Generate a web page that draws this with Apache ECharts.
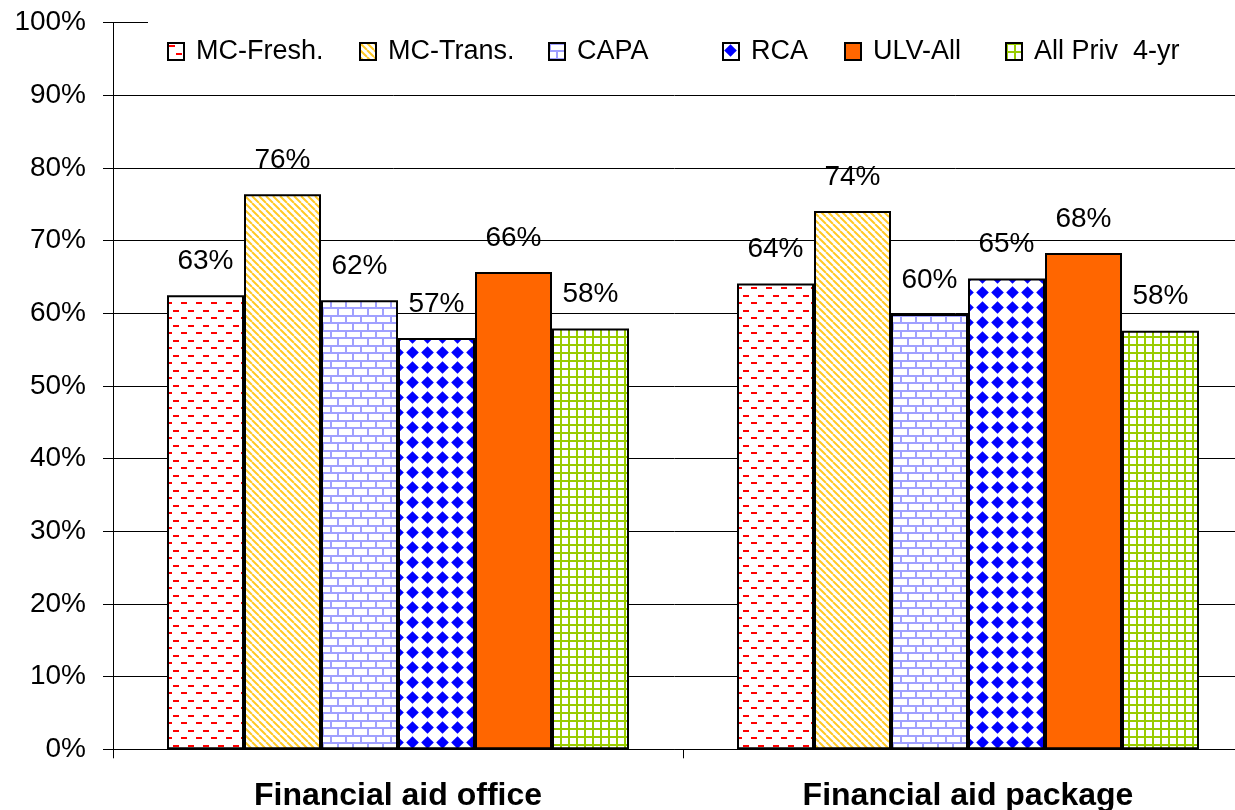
<!DOCTYPE html>
<html>
<head>
<meta charset="utf-8">
<script src="https://cdn.jsdelivr.net/npm/echarts@6/dist/echarts.min.js"></script>
<style>
  html, body { margin: 0; padding: 0; background: #fff; }
  #chart { width: 1235px; height: 810px; }
</style>
</head>
<body>
<div id="chart"></div>
<script>
// Survey results: share of respondents satisfied, by group
const categories = ['Financial aid office', 'Financial aid package'];
const seriesNames = ['MC-Fresh.', 'MC-Trans.', 'CAPA', 'RCA', 'ULV-All', 'All Priv  4-yr'];
const mcFresh = [62.5, 64.1];
const mcTrans = [76.4, 74.1];
const capa = [61.8, 59.9];
const rca = [56.6, 64.8];
const ulvAll = [65.7, 68.3];
const allPriv = [57.9, 57.6];
const yTicks = { min: 0, max: 100, interval: 10 };

const FONT = 'Liberation Sans, Arial, sans-serif';

// Small repeating tiles used as bar fills
function tile(w, h, draw) {
  const c = document.createElement('canvas');
  c.width = w; c.height = h;
  const g = c.getContext('2d');
  g.fillStyle = '#ffffff';
  g.fillRect(0, 0, w, h);
  draw(g, w, h);
  return { image: c, repeat: 'repeat' };
}

const dashFill = tile(15, 15, g => {
  g.fillStyle = '#ff0000';
  g.fillRect(1, 2, 6, 2);
  g.fillRect(8, 10, 6, 2);
});
const stripeFill = tile(7, 7, g => {
  g.strokeStyle = '#ffc926';
  g.lineWidth = 2;
  g.beginPath();
  for (const k of [-7, 0, 7]) { g.moveTo(k, 0); g.lineTo(k + 7, 7); }
  g.stroke();
});
const brickFill = tile(15, 15, g => {
  g.fillStyle = '#a0a0ff';
  g.fillRect(0, 0, 15, 2);
  g.fillRect(0, 7, 15, 2);
  g.fillRect(0, 0, 2, 7);
  g.fillRect(7, 7, 2, 8);
});
const diamondFill = tile(15, 15, g => {
  g.fillStyle = '#0000ff';
  g.beginPath();
  g.moveTo(7.5, 1.2); g.lineTo(13.8, 7.5); g.lineTo(7.5, 13.8); g.lineTo(1.2, 7.5);
  g.closePath();
  g.fill();
});
const gridFill = tile(8, 8, g => {
  g.fillStyle = '#99cc00';
  g.fillRect(0, 0, 8, 2);
  g.fillRect(0, 0, 2, 8);
});

const fills = [dashFill, stripeFill, brickFill, diamondFill, '#ff6600', gridFill];
const values = [mcFresh, mcTrans, capa, rca, ulvAll, allPriv];

// Left edge of each legend entry's swatch
const legendLeft = [167, 359, 548, 722, 844, 1005];

const chart = echarts.init(document.getElementById('chart'), null, { renderer: 'canvas' });

chart.setOption({
  animation: false,
  backgroundColor: '#ffffff',
  textStyle: { fontFamily: FONT },
  grid: { left: 113, top: 22.7, width: 1140, height: 726.6, outerBoundsMode: 'none', containLabel: false },
  // white panel behind the legend row
  graphic: [{
    type: 'rect',
    z: 3,
    silent: true,
    shape: { x: 148, y: 22, width: 1120, height: 54 },
    style: { fill: '#ffffff' }
  }],
  legend: seriesNames.map((name, i) => ({
    left: legendLeft[i],
    top: 38,
    padding: 0,
    z: 4,
    itemWidth: 16,
    itemHeight: 17,
    icon: 'rect',
    textStyle: { fontFamily: FONT, fontSize: 27, color: '#000', padding: [0, 0, 0, 7] },
    data: [name]
  })),
  xAxis: {
    type: 'category',
    data: categories,
    axisLine: { lineStyle: { color: '#000', width: 1 } },
    axisTick: { show: true, length: 9, lineStyle: { color: '#000' } },
    axisLabel: { fontFamily: FONT, fontSize: 32, fontWeight: 'bold', color: '#000', margin: 31 }
  },
  yAxis: {
    type: 'value',
    min: yTicks.min,
    max: yTicks.max,
    interval: yTicks.interval,
    axisLine: { show: true, lineStyle: { color: '#000', width: 1 } },
    axisTick: { show: true, length: 10, lineStyle: { color: '#000' } },
    axisLabel: { fontFamily: FONT, fontSize: 28, color: '#000', margin: 27, formatter: '{value}%' },
    splitLine: { show: true, lineStyle: { color: '#000', width: 1 } }
  },
  series: seriesNames.map((name, i) => ({
    name,
    type: 'bar',
    data: values[i],
    barWidth: 77,
    barGap: '0%',
    itemStyle: { color: fills[i], borderColor: '#000', borderWidth: 2 },
    label: {
      show: true,
      position: 'top',
      distance: 20,
      fontFamily: FONT,
      fontSize: 28,
      color: '#000',
      formatter: p => Math.round(p.value) + '%'
    }
  }))
});
</script>
</body>
</html>
